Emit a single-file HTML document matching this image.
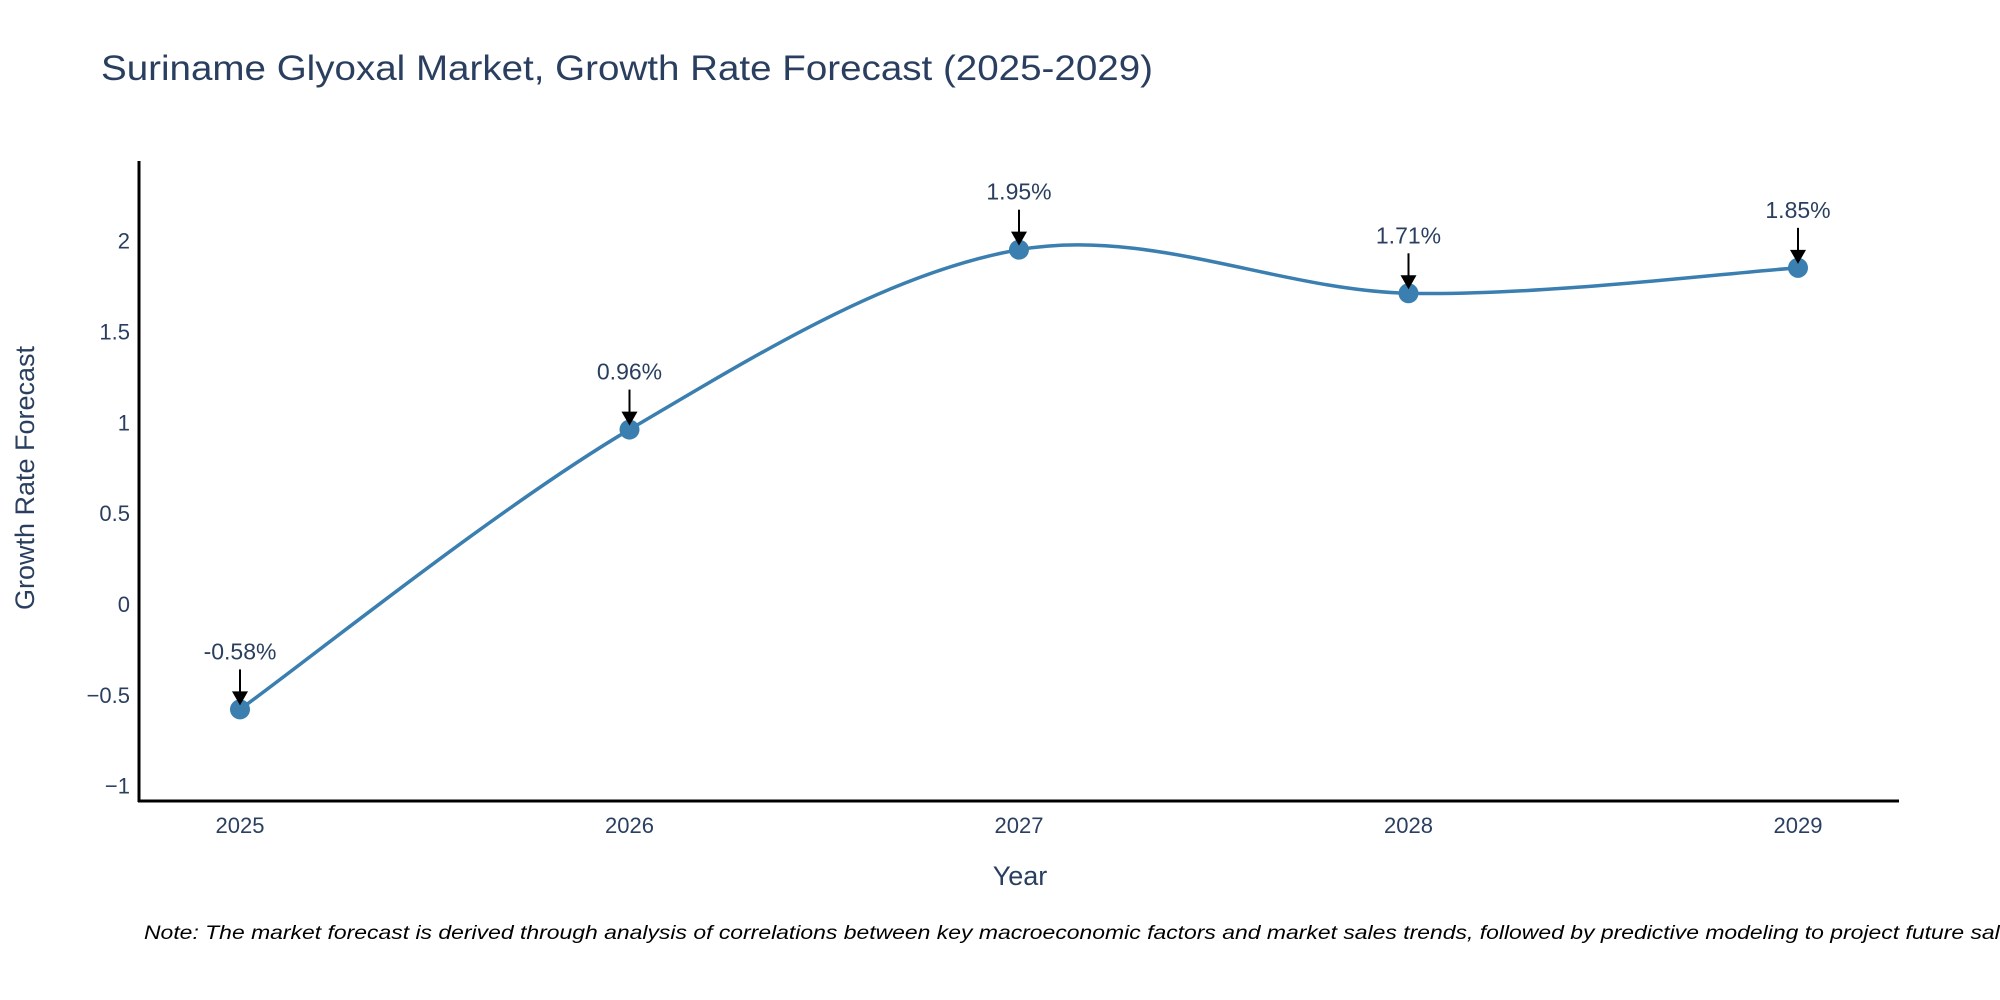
<!DOCTYPE html>
<html><head><meta charset="utf-8"><style>
html,body{margin:0;padding:0;background:#fff;}
svg{display:block;font-family:"Liberation Sans",sans-serif;}
</style></head><body>
<svg id="chart" width="2000" height="1000" viewBox="0 0 2000 1000" xmlns="http://www.w3.org/2000/svg">
<text x="101" y="80" font-size="35" fill="#2a3f5f" textLength="1052" lengthAdjust="spacingAndGlyphs">Suriname Glyoxal Market, Growth Rate Forecast (2025-2029)</text>
<g id="yticks"></g>
<g id="xticks"></g>
<path id="line" fill="none" stroke="#3a7fb0" stroke-width="3.5"></path>
<g id="points"></g>
<g id="annots"></g>
<line x1="139" y1="161" x2="139" y2="802" stroke="#000" stroke-width="3"/>
<line x1="138" y1="801" x2="1899" y2="801" stroke="#000" stroke-width="3"/>
<text x="1020" y="885" font-size="27" fill="#2a3f5f" text-anchor="middle">Year</text>
<text transform="translate(34,478) rotate(-90)" font-size="27" fill="#2a3f5f" text-anchor="middle">Growth Rate Forecast</text>
<text x="144" y="939" font-size="19" font-style="italic" fill="#000" textLength="1880" lengthAdjust="spacingAndGlyphs">Note: The market forecast is derived through analysis of correlations between key macroeconomic factors and market sales trends, followed by predictive modeling to project future sales</text>
</svg>
<script>
const years = [2025, 2026, 2027, 2028, 2029];
const growth = [-0.58, 0.96, 1.95, 1.71, 1.85];
const labels = ["-0.58%", "0.96%", "1.95%", "1.71%", "1.85%"];
const yTickVals = [-1, -0.5, 0, 0.5, 1, 1.5, 2];
const yTickText = ["\u22121", "\u22120.5", "0", "0.5", "1", "1.5", "2"];

const NS = "http://www.w3.org/2000/svg";
function xs(v){ return 240 + (v - 2025) * 389.5; }
function ys(v){ return 604 - v * 181.7; }
function mk(tag, attrs, parent, txt){
  const e = document.createElementNS(NS, tag);
  for (const k in attrs) e.setAttribute(k, attrs[k]);
  if (txt !== undefined) e.textContent = txt;
  parent.appendChild(e);
  return e;
}
const yt = document.getElementById('yticks');
yTickVals.forEach((v,i)=>{
  const t = mk('text',{x:130,y:ys(v)+8,'font-size':22,fill:'#2a3f5f','text-anchor':'end'},yt,yTickText[i]);
  
  
});
const xt = document.getElementById('xticks');
years.forEach(v=>{
  const t = mk('text',{x:xs(v),y:833,'font-size':22,fill:'#2a3f5f','text-anchor':'middle'},xt,String(v));
  
  
});
// spline
const P = years.map((y,i)=>[xs(y), ys(growth[i])]);
let d = `M${P[0][0]},${P[0][1]}`;
const s = 1/6*1.0;
for (let i=0;i<P.length-1;i++){
  const p0 = P[Math.max(i-1,0)], p1=P[i], p2=P[i+1], p3=P[Math.min(i+2,P.length-1)];
  const c1=[p1[0]+(p2[0]-p0[0])*s, p1[1]+(p2[1]-p0[1])*s];
  const c2=[p2[0]-(p3[0]-p1[0])*s, p2[1]-(p3[1]-p1[1])*s];
  d += ` C${c1[0]},${c1[1]} ${c2[0]},${c2[1]} ${p2[0]},${p2[1]}`;
}
document.getElementById('line').setAttribute('d', d);
const pts = document.getElementById('points');
const an = document.getElementById('annots');
P.forEach((p,i)=>{
  const c = mk('circle',{cx:p[0],cy:p[1],r:10,fill:'#3a7fb0'},pts);
  
  
  const ln = mk('line',{x1:p[0],y1:p[1]-40,x2:p[0],y2:p[1]-16,stroke:'#000','stroke-width':2},an);
  
  
  const hd = mk('polygon',{points:`${p[0]-8},${p[1]-18} ${p[0]+8},${p[1]-18} ${p[0]},${p[1]-4}`,fill:'#000'},an);
  
  
  const t = mk('text',{x:p[0],y:p[1]-50,'font-size':23,fill:'#2a3f5f','text-anchor':'middle'},an,labels[i]);
  
  
});
</script>
</body></html>
